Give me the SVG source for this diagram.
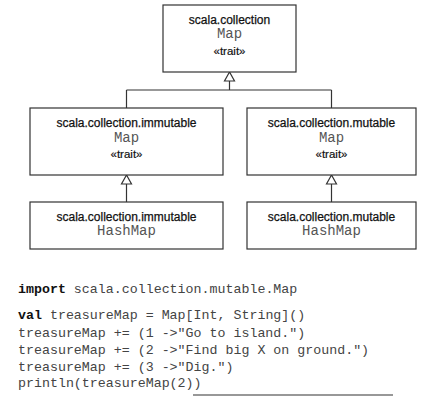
<svg xmlns="http://www.w3.org/2000/svg" width="444" height="412" viewBox="0 0 444 412">
<style>
.box{fill:#fff;stroke:#333;stroke-width:1.2}
.pkg{font-family:"Liberation Sans",Arial,sans-serif;font-size:12px;fill:#111;stroke:#111;stroke-width:0.25;text-anchor:middle}
.nm{font-family:"Liberation Mono","Courier New",monospace;font-size:14px;fill:#555;text-anchor:middle}
.st{font-family:"Liberation Sans",Arial,sans-serif;font-size:11.5px;fill:#111;stroke:#111;stroke-width:0.2;text-anchor:middle}
.code{font-family:"Liberation Mono","Courier New",monospace;font-size:13.3px;fill:#444}
.kw{font-weight:bold;fill:#111}
.ln{stroke:#333;stroke-width:1.2;fill:none}
.tri{fill:#fff;stroke:#333;stroke-width:1.2}
</style>
<rect width="444" height="412" fill="#fff"/>
<g id="connectors">
<polygon class="tri" points="229.5,72 224.5,81 234.5,81"/>
<path class="ln" d="M229.5,81 V90 M126.5,90 H331.5 M126.5,90 V108 M331.5,90 V108"/>
<polygon class="tri" points="126.5,175 121.5,184 131.5,184"/>
<path class="ln" d="M126.5,184 V202"/>
<polygon class="tri" points="331.5,175 326.5,184 336.5,184"/>
<path class="ln" d="M331.5,184 V202"/>
</g>
<g id="collection-map">
<rect class="box" x="163" y="5" width="133" height="67"/>
<text class="pkg" x="229.5" y="24">scala.collection</text>
<text class="nm" x="229.5" y="38">Map</text>
<text class="st" x="229.5" y="55">«trait»</text>
</g>
<g id="immutable-map">
<rect class="box" x="30" y="108" width="193" height="67"/>
<text class="pkg" x="126.5" y="127">scala.collection.immutable</text>
<text class="nm" x="126.5" y="142">Map</text>
<text class="st" x="126.5" y="158">«trait»</text>
</g>
<g id="mutable-map">
<rect class="box" x="247" y="108" width="169" height="67"/>
<text class="pkg" x="331.5" y="127">scala.collection.mutable</text>
<text class="nm" x="331.5" y="142">Map</text>
<text class="st" x="331.5" y="158">«trait»</text>
</g>
<g id="immutable-hashmap">
<rect class="box" x="30" y="202" width="193" height="47"/>
<text class="pkg" x="126.5" y="221">scala.collection.immutable</text>
<text class="nm" x="126.5" y="235">HashMap</text>
</g>
<g id="mutable-hashmap">
<rect class="box" x="247" y="202" width="169" height="47"/>
<text class="pkg" x="331.5" y="221">scala.collection.mutable</text>
<text class="nm" x="331.5" y="235">HashMap</text>
</g>
<g id="code">
<text class="code" x="18" y="293"><tspan class="kw">import</tspan> scala.collection.mutable.Map</text>
<text class="code" x="18" y="319"><tspan class="kw">val</tspan> treasureMap = Map[Int, String]()</text>
<text class="code" x="18" y="337">treasureMap += (1 -&gt;"Go to island.")</text>
<text class="code" x="18" y="354">treasureMap += (2 -&gt;"Find big X on ground.")</text>
<text class="code" x="18" y="371">treasureMap += (3 -&gt;"Dig.")</text>
<text class="code" x="18" y="387">println(treasureMap(2))</text>
<path class="ln" d="M193,395 H393"/>
</g>
</svg>
